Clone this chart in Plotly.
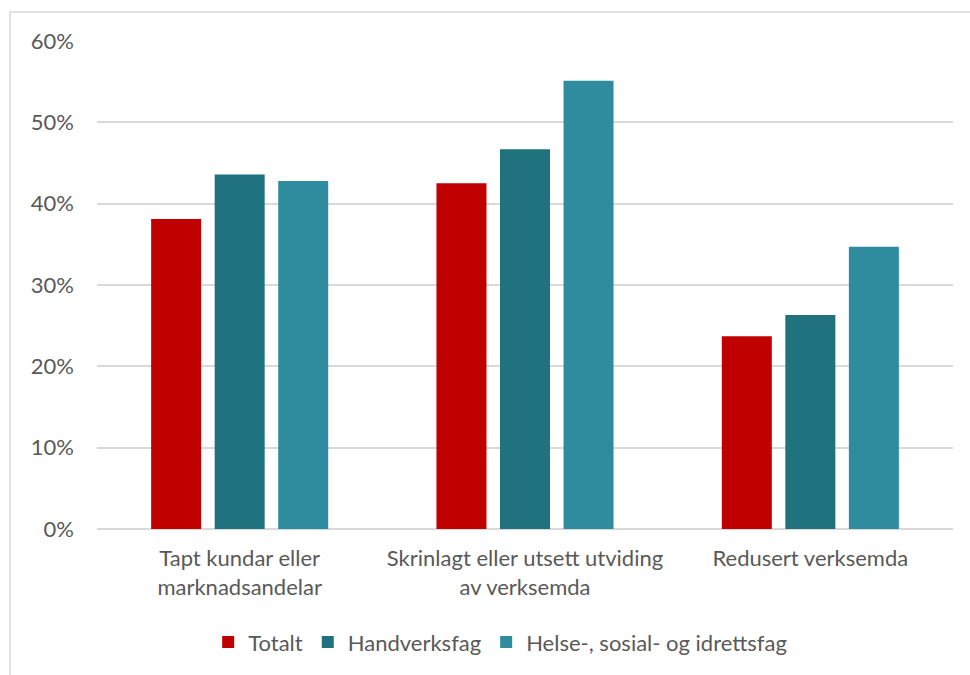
import plotly.graph_objects as go

# Category labels (two lines where the text wraps)
categories = [
    "Tapt kundar eller<br>marknadsandelar",
    "Skrinlagt eller utsett utviding<br>av verksemda",
    "Redusert verksemda",
]

# Share of firms per group (percent)
series_names = ["Totalt", "Handverksfag", "Helse-, sosial- og idrettsfag"]
totalt = [38.1, 42.5, 23.7]
handverksfag = [43.6, 46.7, 26.3]
helse = [42.8, 55.1, 34.7]
series_values = [totalt, handverksfag, helse]
series_colors = ["#C00000", "#21727F", "#2E8C9E"]

y_ticks = [0, 10, 20, 30, 40, 50, 60]
y_tick_labels = ["0%", "10%", "20%", "30%", "40%", "50%", "60%"]

FONT = "Lato, 'Open Sans', sans-serif"
TEXT_COLOR = "#595959"
GRID_COLOR = "#D9D9D9"

fig = go.Figure()
for name, vals, color in zip(series_names, series_values, series_colors):
    fig.add_trace(go.Bar(
        name=name,
        x=categories,
        y=vals,
        marker=dict(color=color, line=dict(width=0)),
    ))

fig.update_layout(
    width=970,
    height=675,
    margin=dict(l=97, r=17, t=41, b=146),
    paper_bgcolor="white",
    plot_bgcolor="white",
    barmode="group",
    bargap=0.332,
    bargroupgap=0.213,
    font=dict(family=FONT, size=22, color=TEXT_COLOR),
    showlegend=True,
    legend=dict(
        orientation="h",
        x=0.471,
        xanchor="center",
        y=-0.232,
        yanchor="middle",
        font=dict(family=FONT, size=22, color=TEXT_COLOR),
        itemwidth=30,
        traceorder="normal",
    ),
    xaxis=dict(
        showgrid=False,
        showline=False,
        ticks="",
        ticklabelstandoff=14,
        tickfont=dict(family=FONT, size=22, color=TEXT_COLOR),
    ),
    yaxis=dict(
        range=[0, 60],
        tickvals=y_ticks,
        ticktext=y_tick_labels,
        showgrid=True,
        gridcolor=GRID_COLOR,
        gridwidth=1.5,
        zeroline=True,
        zerolinecolor=GRID_COLOR,
        zerolinewidth=1.5,
        showline=False,
        ticks="",
        ticklabelstandoff=22,
        tickfont=dict(family=FONT, size=22, color=TEXT_COLOR),
    ),
    shapes=[
        dict(
            type="rect",
            xref="paper", yref="paper",
            x0=(10 - 97) / 856, x1=1.2,
            y0=-0.5, y1=(529 - 12) / 488,
            line=dict(color=GRID_COLOR, width=1.5),
            fillcolor="rgba(0,0,0,0)",
            layer="below",
        )
    ],
)

fig.write_html("out.html")
